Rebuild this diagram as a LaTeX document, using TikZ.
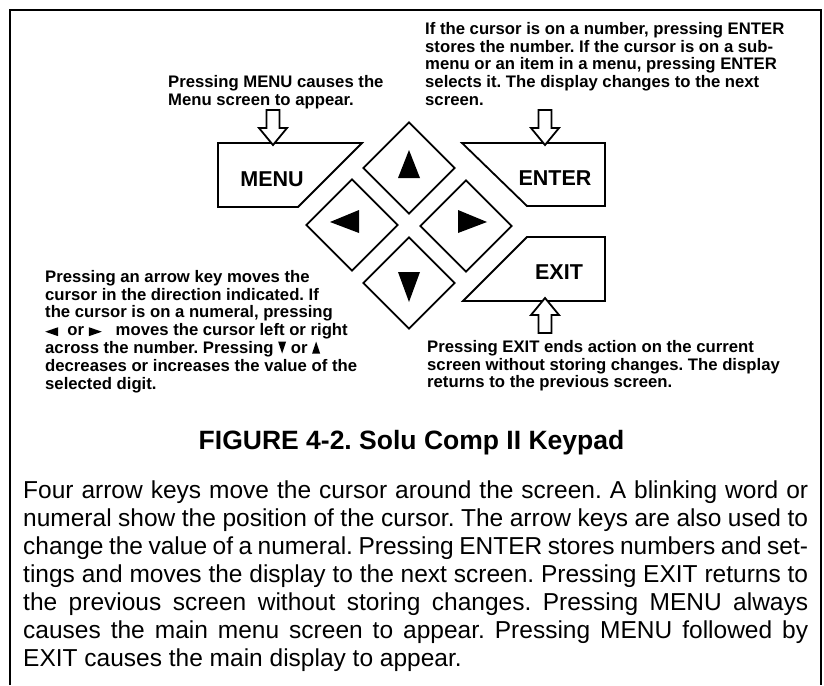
\documentclass[tikz,border=0pt]{standalone}
\usepackage{fontspec}
\setmainfont{Liberation Sans}
\usetikzlibrary{shapes.geometric}
\frenchspacing

% small key symbols used inside the text
\newcommand{\trileft}{\tikz[x=1pt,y=1pt,baseline=0pt]\fill (0,4) -- (13,8.5) -- (13,-0.5) -- cycle;}
\newcommand{\triright}{\tikz[x=1pt,y=1pt,baseline=0pt]\fill (0,-0.5) -- (0,8.5) -- (13,4) -- cycle;}
\newcommand{\tridown}{\tikz[x=1pt,y=1pt,baseline=0pt]\fill (0,12) -- (8,12) -- (4,0) -- cycle;}
\newcommand{\triup}{\tikz[x=1pt,y=1pt,baseline=0pt]\fill (0,0) -- (8,0) -- (4,12) -- cycle;}

\begin{document}
\begin{tikzpicture}[x=1pt, y=-1pt,
  keyline/.style={line width=1.8pt},
  keylabel/.style={anchor=base, inner sep=0pt, font=\bfseries\fontsize{21.5}{24}\selectfont},
  note/.style={anchor=north west, inner sep=0pt, align=left,
    font=\bfseries\fontsize{16.7}{17.8}\selectfont},
  arrowkey/.style={draw, keyline, shape=diamond, inner sep=0pt,
    minimum width=92pt, minimum height=92pt},
  hollow arrow/.pic={
    \draw[keyline, fill=white] (0,0) -- (14,-17) -- (6.5,-17) -- (6.5,-35)
      -- (-6.5,-35) -- (-6.5,-17) -- (-14,-17) -- cycle;}]

\useasboundingbox (0,0) rectangle (824,685);

% frame
\draw[line width=2pt] (10,685) -- (10,10) -- (821,10) -- (821,685);

% arrow keys
\node[arrowkey] (kup) at (409,168) {};
\node[arrowkey] (kleft) at (352,225) {};
\node[arrowkey] (kright) at (466,226) {};
\node[arrowkey] (kdown) at (409,283) {};
\fill[shift={(kup.center)}] (0,-18) -- (11,10) -- (-11,10) -- cycle;
\fill[shift={(kdown.center)}] (0,19) -- (11,-11) -- (-11,-11) -- cycle;
\fill[shift={(kleft.center)}] (-22,-3) -- (7,-15) -- (7,8) -- cycle;
\fill[shift={(kright.center)}] (21,-4) -- (-8,-16) -- (-8,7) -- cycle;

% MENU, ENTER and EXIT keys
\draw[keyline] (218,143) -- (362,143) -- (298,207) -- (218,207) -- cycle;
\node[keylabel] (menu) at (272,186.5) {MENU};
\draw[keyline] (462,143) -- (605,143) -- (605,206) -- (527,206) -- cycle;
\node[keylabel] (enter) at (555,185.5) {ENTER};
\draw[keyline] (527,237) -- (605,237) -- (605,301) -- (463,301) -- cycle;
\node[keylabel] (exit) at (559,279.5) {EXIT};

\pic at (273,145) {hollow arrow};
\pic at (545,145) {hollow arrow};
\pic[rotate=180] at (545,298) {hollow arrow};

% notes
\node[note] (menunote) at (168,75) {Pressing MENU causes the\\Menu screen to appear.};
\node[note] (enternote) at (425,22) {If the cursor is on a number, pressing ENTER\\
  stores the number. If the cursor is on a sub-\\
  menu or an item in a menu, pressing ENTER\\
  selects it. The display changes to the next\\
  screen.};
\node[note] (arrownote) at (45,270) {Pressing an arrow key moves the\\
  cursor in the direction indicated. If\\
  the cursor is on a numeral, pressing\\
  \trileft\ \ or \triright\ \ \ moves the cursor left or right\\
  across the number. Pressing \tridown\ or \triup\\
  decreases or increases the value of the\\
  selected digit.};
\node[note] (exitnote) at (427,340) {Pressing EXIT ends action on the current\\
  screen without storing changes. The display\\
  returns to the previous screen.};

% caption and text
\node[anchor=base, inner sep=0pt, font=\bfseries\fontsize{26.5}{30}\selectfont]
  (title) at (411.5,449) {FIGURE 4-2. Solu Comp II Keypad};

\node[anchor=north west, inner sep=0pt, text width=785pt, align=justify,
  font=\fontsize{24.5}{28}\selectfont] (body) at (23,481) {Four arrow keys move the
  cursor around the screen. A blinking word or\linebreak
  numeral show the position of the cursor. The arrow keys are also used to\linebreak
  change the value of a numeral. Pressing ENTER stores numbers and set-\linebreak
  tings and moves the display to the next screen. Pressing EXIT returns to\linebreak
  the previous screen without storing changes. Pressing MENU always\linebreak
  causes the main menu screen to appear. Pressing MENU followed by\linebreak
  EXIT causes the main display to appear.};

\end{tikzpicture}
\end{document}
